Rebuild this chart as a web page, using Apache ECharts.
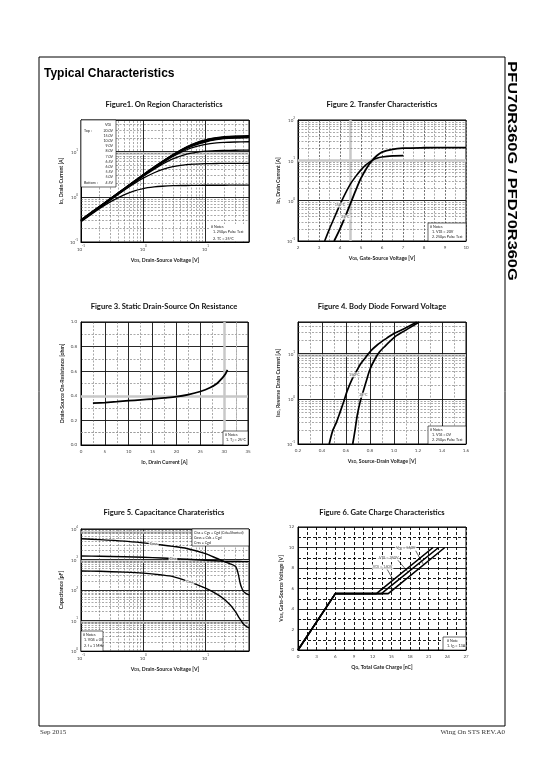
<!DOCTYPE html>
<html><head><meta charset="utf-8">
<script src="https://cdn.jsdelivr.net/npm/echarts@6/dist/echarts.min.js"></script>
<style>html,body{margin:0;padding:0;background:#fff}#c{width:540px;height:780px}</style>
</head><body><div id="c"></div>
<script>
// ---------- Figure 1: On region characteristics ----------
const f1Vds = [0.1,0.2,0.3,0.5,0.7,1,1.5,2,3,5,7,10,15,20,30,50];
const f1Vgs = ['20.0V','15.0V','10.0V','9.0V','8.0V','7.0V','6.5V','6.0V','5.5V','5.0V','4.5V'];
const f1Id20 = [0.31,0.62,0.93,1.55,2.17,3.1,4.6,6.0,8.6,12.8,15.6,18.2,20.3,21.3,22.0,22.5];
const f1Id15 = [0.31,0.62,0.93,1.54,2.16,3.08,4.55,5.95,8.5,12.6,15.4,17.9,20.0,21.0,21.7,22.2];
const f1Id10 = [0.30,0.61,0.91,1.52,2.13,3.04,4.5,5.9,8.4,12.4,15.1,17.5,19.5,20.5,21.2,21.7];
const f1Id9  = [0.30,0.60,0.90,1.51,2.11,3.0,4.45,5.8,8.3,12.2,14.8,17.2,19.2,20.2,20.9,21.4];
const f1Id8  = [0.30,0.60,0.90,1.50,2.10,2.98,4.4,5.75,8.2,12.0,14.5,16.8,18.8,19.8,20.5,21.0];
const f1Id7  = [0.29,0.59,0.89,1.48,2.07,2.95,4.35,5.65,8.0,11.7,14.1,16.3,18.3,19.3,20.0,20.5];
const f1Id65 = [0.29,0.59,0.88,1.47,2.05,2.92,4.3,5.55,7.8,11.0,12.9,14.5,15.6,16.0,16.3,16.5];
const f1Id6  = [0.29,0.58,0.87,1.45,2.02,2.85,4.1,5.2,6.9,8.8,9.6,10.2,10.5,10.6,10.7,10.8];
const f1Id55 = [0.29,0.58,0.86,1.41,1.92,2.58,3.4,4.0,4.65,5.15,5.3,5.4,5.45,5.48,5.5,5.5];
const f1Id5  = [0.28,0.55,0.78,1.12,1.34,1.52,1.65,1.71,1.76,1.78,1.79,1.8,1.8,1.8,1.81,1.82];

// ---------- Figure 2: Transfer characteristics ----------
const f2Vgs25  = [3.72,4.0,4.25,4.5,4.75,5.0,5.25,5.5,5.75,6.0,6.5,7,8,9,10];
const f2Id25   = [0.1,0.2,0.4,0.85,1.8,3.6,6.2,9.5,13,16,18.8,20,20.5,20.6,20.6];
const f2Vgs150 = [3.27,3.5,3.75,4.0,4.25,4.5,4.75,5.0,5.25,5.5,5.75,6.0,6.5,7.0];
const f2Id150  = [0.1,0.2,0.4,0.8,1.5,2.6,4.0,5.8,7.8,9.7,11.2,12.1,12.9,13.1];

// ---------- Figure 3: On resistance ----------
const f3Id  = [2.5,5,7.5,10,12.5,15,17.5,20,22.5,25,27,28.5,29.5,30.3,30.7];
const f3Rds = [0.34,0.345,0.352,0.36,0.367,0.374,0.383,0.393,0.41,0.435,0.465,0.5,0.54,0.58,0.61];

// ---------- Figure 4: Body diode ----------
const f4Vsd25  = [0.656,0.675,0.695,0.72,0.745,0.77,0.80,0.84,0.88,0.93,0.97,1.02,1.08,1.15,1.21];
const f4Isd25  = [0.1,0.2,0.45,0.9,1.5,2.5,4.5,7.5,11,15,19,25,31,40,50];
const f4Vsd150 = [0.46,0.49,0.52,0.55,0.58,0.61,0.65,0.69,0.72,0.76,0.80,0.86,0.94,1.0,1.08,1.19];
const f4Isd150 = [0.1,0.2,0.3,0.5,0.85,1.5,2.7,4.2,5.8,8,11,15.5,22,28,35,50];

// ---------- Figure 5: Capacitance ----------
const f5VdsCoss = [0.1,0.2,0.5,1,2,3,5,10,15,20,25,30,32,34,36,38,41,45,50];
const f5Coss    = [4800,4500,4000,3500,3000,2700,2300,1550,1100,850,720,600,480,300,170,120,88,76,69];
const f5VdsCiss = [0.1,0.2,0.5,1,2,3,5,10,20,30,40,50];
const f5Ciss    = [1300,1280,1230,1180,1120,1080,1020,950,880,860,855,850];
const f5VdsCrss = [0.1,0.2,0.5,1,2,3,5,10,15,20,25,30,35,40,45,50];
const f5Crss    = [420,410,385,357,310,275,200,115,75,50,32,20,12,8,6.5,5.7];

// ---------- Figure 6: Gate charge ----------
const f6Vgs  = [0,5.5,5.5,10];
const f6Q140 = [0,6,12.6,21.7];
const f6Q350 = [0,6,13.4,22.6];
const f6Q560 = [0,6,14.5,23.6];
const f6Vds  = ['140V','350V','560V'];

const FONT = 'Lato, "Open Sans", sans-serif';
const chart = echarts.init(document.getElementById('c'), null, {renderer:'canvas'});

function logLabel(v){
  const e = Math.log10(v), r = Math.round(e);
  if (Math.abs(e - r) > 1e-6) return '';
  return '{b|10}{p|' + r + '}';
}
const logRich = {
  b:{fontSize:4.5,color:'#444',fontFamily:FONT,lineHeight:7,verticalAlign:'bottom'},
  p:{fontSize:3,color:'#444',fontFamily:FONT,lineHeight:7,verticalAlign:'top'}
};
const nameRich = {
  m:{fontSize:5.2,fontWeight:'bold',color:'#222',fontFamily:FONT},
  s:{fontSize:3.8,fontWeight:'bold',color:'#222',fontFamily:FONT,verticalAlign:'bottom',padding:[2,0,0,0]}
};
const subRich = {
  a:{fontSize:3.8,color:'#222',fontFamily:FONT},
  b:{fontSize:2.8,color:'#222',fontFamily:FONT,verticalAlign:'bottom',padding:[1.2,0,0,0]}
};
function minorLog(lo, hi){
  const out = [];
  for (let e = Math.floor(Math.log10(lo)); e <= Math.ceil(Math.log10(hi)); e++)
    for (let m = 2; m <= 9; m++){ const v = m*Math.pow(10,e); if (v > lo*1.0001 && v < hi*0.9999) out.push(v); }
  return out;
}
const MINOR = {color:'#555',width:0.5,type:[2,1.5]};
const MAJOR = {color:'#111',width:0.9,type:'solid'};
const BAND  = {color:'#c8c8c8',width:2.5,type:'solid'};

function grid(left, top, width, height){
  return {left, top, width, height, show:true, borderColor:'#000', borderWidth:1, backgroundColor:'#fff'};
}
function axisBase(idx, extra){
  return Object.assign({
    gridIndex:idx,
    axisLine:{show:true,onZero:false,lineStyle:{color:'#000',width:1}},
    axisTick:{show:false},
    nameLocation:'middle',
    nameTextStyle:{rich:nameRich},
  }, extra);
}
function logAxis(idx, min, max, extra){
  return axisBase(idx, Object.assign({
    type:'log', logBase:10, min, max,
    axisLabel:{formatter:logLabel, rich:logRich, margin:3, showMaxLabel:false},
    splitLine:{show:true,lineStyle:MAJOR}
  }, extra));
}
function valAxis(idx, min, max, interval, fmt, extra){
  return axisBase(idx, Object.assign({
    type:'value', min, max, interval,
    axisLabel:{formatter:fmt, fontSize:4.5, color:'#444', fontFamily:FONT, margin:4},
    splitLine:{show:true,lineStyle:MAJOR},
    minorTick:{show:false,splitNumber:2},
    minorSplitLine:{show:true,lineStyle:MINOR}
  }, extra));
}
function gridLines(idx, anchor, xs, ys){
  return {
    type:'line', xAxisIndex:idx, yAxisIndex:idx, data:[anchor], symbol:'none',
    lineStyle:{opacity:0}, silent:true, z:1, animation:false,
    markLine:{silent:true, symbol:['none','none'], animation:false, label:{show:false},
      emphasis:{disabled:true},
      data:[...xs.map(l=>({xAxis:l[0], lineStyle:l[1]})), ...ys.map(l=>({yAxis:l[0], lineStyle:l[1]}))]}
  };
}
function curve(idx, name, xs, ys, width, smooth){
  return {type:'line', name, xAxisIndex:idx, yAxisIndex:idx, z:5, animation:false,
    data: xs.map((x,i)=>[x, ys[i]]), showSymbol:false, symbol:'none',
    smooth: smooth === undefined ? 0.3 : smooth,
    lineStyle:{color:'#000', width: width || 1.4}};
}
function labels(idx, items){
  return {type:'scatter', xAxisIndex:idx, yAxisIndex:idx, z:8, animation:false, silent:true,
    symbolSize:1, itemStyle:{color:'rgba(0,0,0,0)'},
    data: items,
    label:{show:true, position:'inside', formatter:p=>p.data[2], fontSize:3.8, color:'#222',
      fontFamily:FONT, backgroundColor:'#fff', padding:[0.5,1], rich:subRich}};
}

function gText(x, y, text, opt){
  return {type:'text', x, y, silent:true, z:100, style:Object.assign({text, fontSize:3.6, fill:'#222', fontFamily:FONT, rich:subRich}, opt||{})};
}
function box(x, y, w, h){
  return {type:'rect', silent:true, z:99, shape:{x, y, width:w, height:h}, style:{fill:'#fff', stroke:'#000', lineWidth:0.6}};
}

const grids = [
  grid(81,120,168,122), grid(298,120,168,121),
  grid(81,322,167,123), grid(298,322,168,122),
  grid(81,529,168,122), grid(298,527,168,123)
];

const xAxes = [
  logAxis(0, 0.1, 50, {name:'{m|V}{s|DS}{m|, Drain-Source Voltage [V]}', nameGap:15}),
  valAxis(1, 2, 10, 1, v=>String(v), {name:'{m|V}{s|GS}{m|, Gate-Source Voltage [V]}', nameGap:14,
    splitLine:{show:true,lineStyle:{color:'#333',width:0.7,type:[2,1.5]}}}),
  valAxis(2, 0, 35, 5, v=>String(v), {name:'{m|I}{s|D}{m|, Drain Current [A]}', nameGap:14}),
  valAxis(3, 0.2, 1.6, 0.2, v=>v.toFixed(1), {name:'{m|V}{s|SD}{m|, Source-Drain Voltage [V]}', nameGap:14}),
  logAxis(4, 0.1, 50, {name:'{m|V}{s|DS}{m|, Drain-Source Voltage [V]}', nameGap:15}),
  valAxis(5, 0, 27, 3, v=>String(v), {name:'{m|Q}{s|G}{m|, Total Gate Charge [nC]}', nameGap:14,
    splitLine:{show:true,lineStyle:{color:'#000',width:0.9,type:[3,2]}},
    minorSplitLine:{show:true,lineStyle:{color:'#000',width:0.9,type:[3,2]}}})
];
const yAxes = [
  logAxis(0, 0.1, 50, {name:'{m|I}{s|D}{m|, Drain Current [A]}', nameGap:17}),
  logAxis(1, 0.1, 100, {name:'{m|I}{s|D}{m|, Drain Current [A]}', nameGap:17, axisLabel:{formatter:logLabel, rich:logRich, margin:3, showMaxLabel:true}}),
  valAxis(2, 0, 1.0, 0.2, v=>v.toFixed(1), {name:'{m|Drain-Source On-Resistance [ohm]}', nameGap:16}),
  logAxis(3, 0.1, 50, {name:'{m|I}{s|SD}{m|, Reverse Drain Current [A]}', nameGap:17}),
  logAxis(4, 1, 10000, {name:'{m|Capacitance [pF]}', nameGap:17, axisLabel:{formatter:logLabel, rich:logRich, margin:3, showMaxLabel:true}}),
  valAxis(5, 0, 12, 2, v=>String(v), {name:'{m|V}{s|GS}{m|, Gate-Source Voltage [V]}', nameGap:14,
    minorSplitLine:{show:true,lineStyle:{color:'#000',width:0.9,type:[3,2]}}})
];

const series = [];
series.push(gridLines(0, [1,1],
  minorLog(0.1,50).map(v=>[v,MINOR]),
  [[9,BAND]].concat(minorLog(0.1,50).map(v=>[v,MINOR]))));
series.push(gridLines(1, [5,1],
  [[4.5,BAND]],
  [[10,BAND]].concat(minorLog(0.1,100).map(v=>[v,MINOR]))));
series.push(gridLines(2, [10,0.5], [[30,BAND],[32.5,{color:'#bbb',width:1,type:[2,1.5]}]], [[0.4,BAND],[0.1,{color:'#999',width:0.8,type:[2,1.5]}]]));
series.push(gridLines(3, [1,1], [], [[9,BAND]].concat(minorLog(0.1,50).map(v=>[v,MINOR]))));
series.push(gridLines(4, [1,100],
  minorLog(0.1,50).map(v=>[v,MINOR]),
  [[900,BAND],[9,BAND],[8000,BAND]].concat(minorLog(1,10000).map(v=>[v,MINOR]))));

[f1Id20,f1Id15,f1Id10,f1Id9,f1Id8,f1Id7,f1Id65,f1Id6,f1Id55,f1Id5].forEach((arr,i)=>{
  series.push(curve(0, f1Vgs[i], f1Vds, arr, 1.3));
});
series.push(curve(1, '25°C', f2Vgs25, f2Id25, 1.8));
series.push(curve(1, '150°C', f2Vgs150, f2Id150, 1.6));
series.push(labels(1, [[4.0,0.78,'150°C'],[4.25,0.39,'25°C']]));
series.push(curve(2, 'RDS(on)', f3Id, f3Rds, 1.8));
series.push(curve(3, '25°C', f4Vsd25, f4Isd25, 1.7));
series.push(curve(3, '150°C', f4Vsd150, f4Isd150, 1.7));
series.push(labels(3, [[0.67,3.4,'150°C'],[0.745,1.2,'25°C']]));
series.push(curve(4, 'Coss', f5VdsCoss, f5Coss, 1.4));
series.push(curve(4, 'Ciss', f5VdsCiss, f5Ciss, 1.4));
series.push(curve(4, 'Crss', f5VdsCrss, f5Crss, 1.4));
series.push(labels(4, [[1.47,3250,'Coss'],[3.0,1080,'Ciss'],[5.6,190,'Crss']]));
series.push(curve(5, 'VDS = ' + f6Vds[0], f6Q140, f6Vgs, 1.6, false));
series.push(curve(5, 'VDS = ' + f6Vds[1], f6Q350, f6Vgs, 1.6, false));
series.push(curve(5, 'VDS = ' + f6Vds[2], f6Q560, f6Vgs, 1.6, false));
[[[14.3,7.9],[15.3,6.85]],[[16.0,8.8],[17.7,7.6]],[[18.9,9.7],[20.2,8.3]]].forEach(seg=>{
  series.push({type:'line', xAxisIndex:5, yAxisIndex:5, z:6, animation:false, silent:true, data:seg,
    symbol:'none', lineStyle:{color:'#000', width:0.6}});
});
series.push(labels(5, [[13.6,8.1,f6Vds[0]],[14.6,9.0,f6Vds[1]],[17.3,9.95,f6Vds[2]]].map(d=>[d[0],d[1],'{a|V}{b|DS}{a| = ' + d[2] + '}'])));

// ---------- page graphics ----------
const G = [];
G.push({type:'rect', silent:true, shape:{x:39,y:57,width:466,height:669}, style:{fill:'none',stroke:'#000',lineWidth:1}});
G.push({type:'text', x:44, y:68, style:{text:'Typical Characteristics', fontSize:12, fontWeight:'bold', fill:'#000', fontFamily:'"Liberation Sans", Arial, sans-serif'}});
G.push({type:'text', x:511.5, y:171, rotation:-Math.PI/2, scaleX:1.26, style:{text:'PFU70R360G / PFD70R360G', fontSize:13, fontWeight:'bold', fill:'#000', fontFamily:'"Liberation Sans", Arial, sans-serif', textAlign:'center', textVerticalAlign:'middle'}});
G.push({type:'text', x:40, y:729, style:{text:'Sep 2015', fontSize:7, fill:'#333', fontFamily:'"Liberation Serif", serif'}});
G.push({type:'text', x:505, y:729, style:{text:'Wing On STS REV.A0', fontSize:7, fill:'#333', fontFamily:'"Liberation Serif", serif', textAlign:'right'}});
const titles = [
  [164,101,'Figure1. On Region Characteristics'],[382,101,'Figure 2. Transfer Characteristics'],
  [164,303,'Figure 3. Static Drain-Source On Resistance'],[382,303,'Figure 4. Body Diode Forward Voltage'],
  [164,509,'Figure 5. Capacitance Charateristics'],[382,509,'Figure 6. Gate Charge Characteristics']
];
titles.forEach(t=>G.push({type:'text', x:t[0], y:t[1], style:{text:t[2], fontSize:7.6, fontWeight:'bold', fill:'#111', fontFamily:FONT, textAlign:'center'}}));

G.push(box(81,120,35,67));
G.push(gText(108,122.5,'{a|V}{b|GS}',{textAlign:'center'}));
f1Vgs.forEach((v,i)=>{ G.push(gText(113,128.5+i*5.2,v,{textAlign:'right'})); });
G.push(gText(84,128.5,'Top :'));
G.push(gText(84,128.5+10*5.2,'Bottom :'));
G.push({type:'rect', silent:true, z:99, shape:{x:209,y:224,width:39,height:17}, style:{fill:'#fff',stroke:'none'}});
G.push(gText(211,225,'# Notes'));
G.push(gText(213,230,'1. 250\u03BCs Pulse Test'));
G.push(gText(213,236.5,'{a|2. T}{b|C}{a| = 25\u00B0C}'));
G.push(box(428,223,38,18));
G.push(gText(430,224.5,'# Notes'));
G.push(gText(432,229.5,'{a|1. V}{b|DS}{a| = 20V}'));
G.push(gText(432,235,'2. 250\u03BCs Pulse Test'));
G.push(box(223,431,25,14));
G.push(gText(225,432.5,'# Notes'));
G.push(gText(226,438,'{a|1. T}{b|J}{a| = 25\u00B0C}'));
G.push(box(428,426,38,18));
G.push(gText(430,427.5,'# Notes'));
G.push(gText(432,432.5,'{a|1. V}{b|GS}{a| = 0V}'));
G.push(gText(432,438,'2. 250\u03BCs Pulse Test'));
G.push(box(192,529,57,17));
G.push(gText(194,530.5,'Ciss = Cgs + Cgd (Cds=Shorted)'));
G.push(gText(194,535.5,'Coss = Cds + Cgd'));
G.push(gText(194,540.5,'Crss = Cgd'));
G.push(box(81,631,22,20));
G.push(gText(83,632.5,'# Notes'));
G.push(gText(84,638,'1. VGS = 0V'));
G.push(gText(84,644,'2. f = 1 MHz'));
G.push(box(443,637,23,13));
G.push(gText(447,638.5,'# Note'));
G.push(gText(447,644,'{a|1. I}{b|D}{a| = 13A}'));

chart.setOption({
  animation:false,
  textStyle:{fontFamily:FONT},
  grid:grids, xAxis:xAxes, yAxis:yAxes, series, graphic:G
});
</script></body></html>
